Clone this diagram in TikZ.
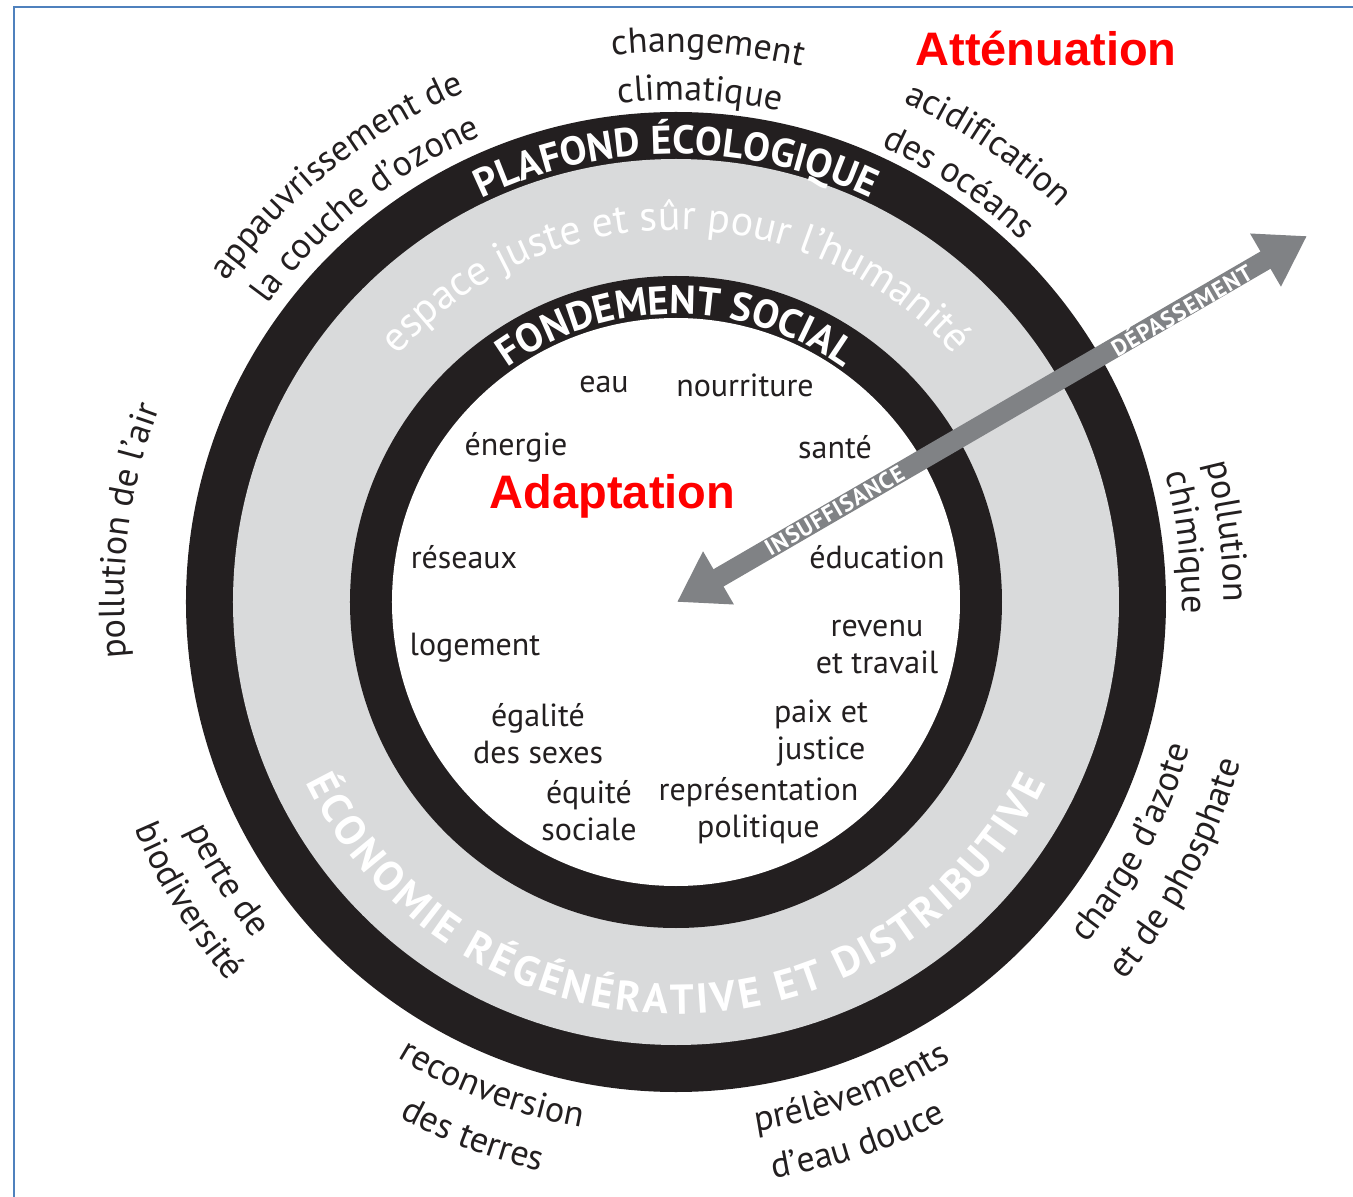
\documentclass[tikz,border=0pt]{standalone}
\usepackage{fontspec}
\setmainfont{PT Sans}
\newfontfamily\arialfont{Liberation Sans}
\newfontfamily\espacecaps[LetterSpace=5]{PT Sans}
\usetikzlibrary{arrows.meta,decorations.text}

\definecolor{encre}{HTML}{231F20}
\definecolor{brume}{HTML}{D9DADB}
\definecolor{fleche}{HTML}{808285}
\definecolor{cadre}{HTML}{4F81BD}

\newcommand{\limitefont}{\fontsize{36}{40}\selectfont}
\newcommand{\anneaufont}{\fontsize{40}{44}\selectfont\bfseries}
\newcommand{\espacefont}{\fontsize{42}{46}\selectfont}
\newcommand{\economiefont}{\fontsize{42}{46}\selectfont\bfseries}

\begin{document}
\begin{tikzpicture}[x=1pt,y=1pt,
    besoin/.style={font=\fontsize{32}{37}\selectfont, text=encre, align=center, inner sep=0pt},
    strategie/.style={font=\arialfont\bfseries\fontsize{47}{50}\selectfont, text=red, inner sep=0pt},
    flux/.style={draw=fleche, line width=20pt,
        {Triangle[length=48pt,width=58pt]}-{Triangle[length=48pt,width=58pt]}},
    sens/.style={font=\espacecaps\bfseries\fontsize{23}{25}\selectfont, text=white, sloped, inner sep=0pt}]
    \useasboundingbox (-676,-595) rectangle (677,602);
    % cadre
    \draw[cadre, line width=2pt] (-662,-595) -- (-662,595) -- (677,595);

    % anneaux
    \fill[encre] (0,0) circle[radius=490];
    \fill[brume] (0,0) circle[radius=443];
    \fill[encre] (0,0) circle[radius=326];
    \fill[white] (0,0) circle[radius=284];

    % textes des anneaux
    \path[decorate, decoration={text along path, text align=center, text color=white,
        text={|\anneaufont|PLAFOND ÉCOLOGIQUE}}]
        (170:448) arc[start angle=170, end angle=10, radius=448];
    \path[decorate, decoration={text along path, text align=center, text color=white,
        text={|\anneaufont|FONDEMENT SOCIAL}}]
        (170:288) arc[start angle=170, end angle=10, radius=288];
    \path[decorate, decoration={text along path, text align=center, text color=white,
        text={|\espacefont|espace juste et sûr pour l’humanité}}]
        (170:372) arc[start angle=170, end angle=10, radius=372];
    \path[decorate, decoration={text along path, text align={fit to path}, text color=white,
        text={|\economiefont|ÉCONOMIE RÉGÉNÉRATIVE ET DISTRIBUTIVE}}]
        (206:412) arc[start angle=206, end angle=334, radius=412];

    % limites planetaires, haut
    \foreach \ang/\rad/\lab in {86.7/550/changement, 87.3/502/climatique,
            55.7/549/acidification, 56/500/des océans,
            128.5/552/appauvrissement de, 128.3/505/la couche d’ozone,
            172.6/552/pollution de l’air, 7.3/548/pollution, 6.7/506/chimique}
        \path[decorate, decoration={text along path, text align=center, text color=encre,
            text/.expanded={|\noexpand\limitefont|\lab}}]
            ({\ang+40}:\rad) arc[start angle=\ang+40, end angle=\ang-40, radius=\rad];
    % limites planetaires, bas
    \foreach \ang/\rad/\lab in {211.8/540/perte de, 211.5/587/biodiversité,
            249.2/534/reconversion, 249.2/585/des terres,
            289.8/535/prélèvements, 288.6/585/d’eau douce,
            332.2/534/charge d’azote, 332/587/et de phosphate}
        \path[decorate, decoration={text along path, text align=center, text color=encre,
            text/.expanded={|\noexpand\limitefont|\lab}}]
            ({\ang-40}:\rad) arc[start angle=\ang-40, end angle=\ang+40, radius=\rad];

    % besoins sociaux
    \node[besoin] (eau) at (-72,217) {eau};
    \node[besoin] (nourriture) at (69,217) {nourriture};
    \node[besoin] (energie) at (-160,155) {énergie};
    \node[besoin] (sante) at (159,155) {santé};
    \node[besoin] (reseaux) at (-212,45) {réseaux};
    \node[besoin] (education) at (201,45) {éducation};
    \node[besoin] (logement) at (-201,-46) {logement};
    \node[besoin] (revenu) at (201,-44.5) {revenu\\et travail};
    \node[besoin] (egalite) at (-138,-131.5) {égalité\\des sexes};
    \node[besoin] (paix) at (145,-131.5) {paix et\\justice};
    \node[besoin] (equite) at (-87,-208.5) {équité\\sociale};
    \node[besoin] (representation) at (82.5,-208.5) {représentation\\politique};

    % fleche insuffisance / depassement
    \coordinate (centre) at (1,0);
    \coordinate (horslimite) at (631,366);
    \draw[flux] (centre) -- (horslimite)
        node[sens, pos=0.25] (insuffisance) {INSUFFISANCE}
        node[sens, pos=0.8] (depassement) {DÉPASSEMENT};

    \node[strategie] (adaptation) at (-63.5,105.5) {Adaptation};
    \node[strategie] (attenuation) at (370,554) {Atténuation};
\end{tikzpicture}
\end{document}
